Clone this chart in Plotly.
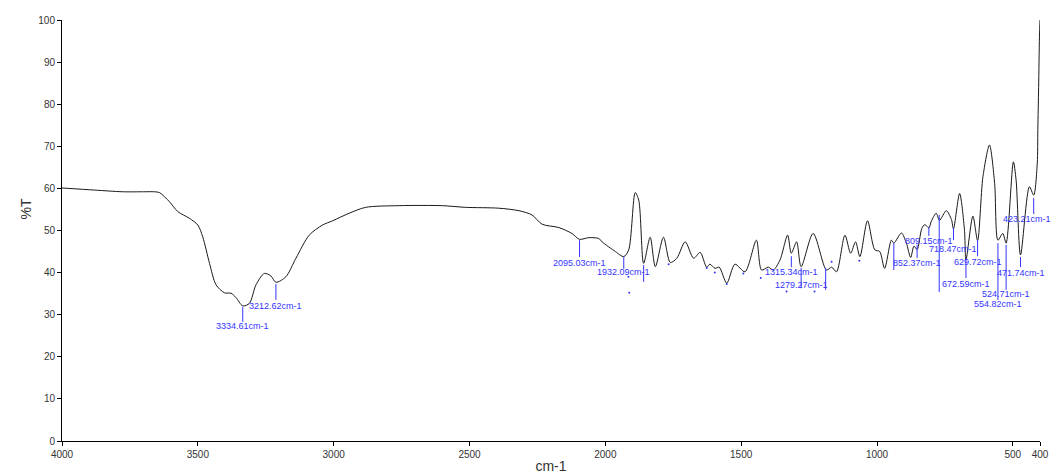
import plotly.graph_objects as go

# FTIR transmittance spectrum (wavenumber in cm-1, %T)
wavenumber = [
    4000, 3880, 3776, 3700, 3660, 3641, 3604, 3574, 3531, 3500, 3482, 3457, 3433, 3402, 3378, 3360,
    3334.61, 3310, 3286, 3255, 3231, 3212.62, 3176, 3139, 3090, 3041, 3004, 2943, 2882,
    2759, 2600, 2515, 2392, 2318, 2270, 2233, 2171, 2123, 2095.03, 2061, 2024, 2012, 1963,
    1932.09, 1914, 1890, 1877, 1859, 1835, 1816, 1786, 1761, 1737, 1706, 1675, 1651, 1627,
    1615, 1596, 1581, 1553, 1523, 1486, 1444, 1425, 1400, 1382, 1357, 1329, 1315.34, 1296,
    1279.27, 1235, 1186, 1167, 1149, 1118, 1097, 1079, 1063, 1035, 1008, 990, 972, 947,
    938, 910, 892, 876, 864, 852.37, 835, 824, 809.15, 800, 782, 770, 745, 726, 718.47,
    696, 678, 672.59, 647, 629.72, 610, 586, 567, 554.82, 537, 524.71, 498, 488, 471.74,
    439, 423.21, 410, 408, 405, 402, 400,
]
transmittance = [
    60.1, 59.6, 59.2, 59.2, 59.2, 59.0, 56.8, 54.5, 52.9, 51.3, 48.5, 42.2, 37.1, 35.2, 35.1, 34.1,
    32.1, 32.7, 37.1, 39.8, 39.2, 37.7, 39.0, 43.4, 48.9, 51.3, 52.3, 54.1, 55.5,
    55.9, 55.9, 55.5, 55.3, 54.7, 53.7, 51.5, 50.7, 49.3, 47.9, 48.3, 48.1, 47.3, 45.0,
    43.8, 45.4, 59.0, 57.2, 42.2, 48.4, 41.4, 48.4, 42.4, 43.4, 47.3, 43.4, 44.8, 41.3,
    42.0, 41.0, 41.3, 37.5, 42.0, 40.2, 47.7, 40.6, 41.3, 40.6, 43.0, 48.9, 44.6, 47.3,
    41.4, 49.3, 40.6, 41.3, 40.2, 48.9, 44.6, 47.3, 43.8, 52.3, 45.4, 45.0, 41.0, 47.7,
    47.0, 49.4, 47.0, 43.6, 46.3, 45.5, 50.5, 51.4, 50.6, 52.2, 54.1, 52.4, 54.7, 52.6, 50.4,
    58.8, 50.1, 43.0, 53.4, 47.6, 62.8, 70.3, 61.2, 47.7, 49.3, 47.0, 66.3, 62.0, 44.2,
    60.4, 58.4, 66.0, 74.0, 84.0, 96.0, 100.0,
]

x_ticks = [4000, 3500, 3000, 2500, 2000, 1500, 1000, 500, 400]
y_ticks = [0, 10, 20, 30, 40, 50, 60, 70, 80, 90, 100]

# Labelled bands: position, leader line (top, bottom in %T) and text level
peak_wn = [3334.61, 3212.62, 2095.03, 1932.09, 1315.34, 1279.27, 852.37, 809.15,
           718.47, 672.59, 629.72, 554.82, 524.71, 471.74, 423.21]
peak_line_top = [31.8, 37.3, 47.7, 43.7, 43.9, 41.1, 46.6, 50.8, 50.6, 43.5, 47.7, 47.0, 46.6, 43.7, 57.7]
peak_line_bottom = [28.3, 33.5, 43.7, 40.9, 41.3, 36.3, 43.5, 48.7, 47.7, 38.7, 43.9, 33.5, 35.9, 41.3, 53.9]
peak_text_y = [27.3, 32.1, 42.3, 40.1, 40.2, 37.1, 42.3, 47.5, 45.6, 37.3, 42.5, 32.5, 34.9, 39.9, 52.7]

# Leader lines of bands whose text is suppressed
hidden_wn = [1859, 1189, 938, 771]
hidden_top = [41.8, 41.1, 47.0, 53.7]
hidden_bottom = [37.8, 35.9, 40.6, 35.4]

# Small peak-pick markers under minima
dot_wn = [1915, 1912, 1767, 1627, 1597, 1553, 1492, 1428, 1333, 1230, 1167, 1065]
dot_t = [39.0, 35.2, 42.0, 41.1, 40.0, 37.3, 39.8, 38.7, 35.5, 35.5, 42.6, 42.8]

BLUE = "#3434ff"

fig = go.Figure()
fig.add_trace(go.Scatter(
    x=wavenumber, y=transmittance, mode="lines",
    line=dict(color="#1a1a1a", width=1, shape="spline", smoothing=0.8),
    hoverinfo="skip", showlegend=False,
))
fig.add_trace(go.Scatter(
    x=dot_wn, y=dot_t, mode="markers",
    marker=dict(color=BLUE, size=2), hoverinfo="skip", showlegend=False,
))

for wn, top, bot, ty in zip(peak_wn, peak_line_top, peak_line_bottom, peak_text_y):
    fig.add_shape(type="line", xref="x", yref="y", x0=wn, x1=wn, y0=top, y1=bot,
                  line=dict(color=BLUE, width=1))
    # keep the last label inside the page edge
    shift = -7 if wn < 450 else 0
    fig.add_annotation(x=wn, y=ty, xref="x", yref="y", text=f"{wn:.2f}cm-1",
                       showarrow=False, xanchor="center", yanchor="middle", xshift=shift,
                       font=dict(family="Liberation Sans, Arial", size=9, color=BLUE))

for wn, top, bot in zip(hidden_wn, hidden_top, hidden_bottom):
    fig.add_shape(type="line", xref="x", yref="y", x0=wn, x1=wn, y0=top, y1=bot,
                  line=dict(color=BLUE, width=1))

fig.add_annotation(x=-0.047, y=0.55, xref="paper", yref="paper", text="%T",
                   showarrow=False, textangle=-90,
                   font=dict(family="Liberation Sans, Arial", size=14, color="#333333"))

fig.update_layout(
    width=1051, height=474,
    margin=dict(l=62, r=11, t=20, b=33, autoexpand=False),
    paper_bgcolor="white", plot_bgcolor="white",
    font=dict(family="Liberation Sans, Arial", size=10, color="#333333"),
)
fig.update_xaxes(
    range=[4000, 400], tickvals=x_ticks, ticktext=[str(v) for v in x_ticks],
    showline=True, linecolor="black", linewidth=1, ticks="outside", ticklen=4,
    tickcolor="black", showgrid=False, zeroline=False, automargin=False,
    title=dict(text="cm-1", font=dict(size=14, color="#333333"), standoff=2),
)
fig.update_yaxes(
    range=[0, 100], tickvals=y_ticks,
    showline=True, linecolor="black", linewidth=1, ticks="outside", ticklen=4,
    tickcolor="black", showgrid=False, zeroline=False, automargin=False,
)

fig.write_html("out.html")
